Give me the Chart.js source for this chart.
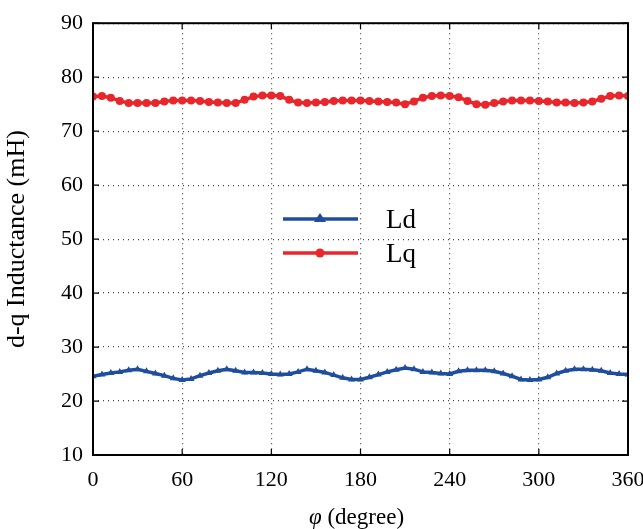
<!DOCTYPE html>
<html>
<head>
<meta charset="utf-8">
<script src="https://cdn.jsdelivr.net/npm/chart.js@4.4.1/dist/chart.umd.min.js"></script>
<style>
  html, body { margin: 0; padding: 0; background: #fff; }
  #wrap { width: 643px; height: 529px; }
</style>
</head>
<body>
<div id="wrap"><canvas id="myChart" width="643" height="529"></canvas></div>
<script>
// rotor angle (degree)
const angles = [0, 6, 12, 18, 24, 30, 36, 42, 48, 54, 60, 66, 72, 78, 84, 90, 96, 102, 108, 114,
  120, 126, 132, 138, 144, 150, 156, 162, 168, 174, 180, 186, 192, 198, 204, 210, 216, 222, 228, 234,
  240, 246, 252, 258, 264, 270, 276, 282, 288, 294, 300, 306, 312, 318, 324, 330, 336, 342, 348, 354, 360];

// d-axis inductance (mH)
const ld = [24.6, 24.9, 25.2, 25.4, 25.7, 25.9, 25.5, 25.1, 24.7, 24.2, 23.9, 24.1, 24.7, 25.2, 25.6, 25.9, 25.6, 25.3, 25.3, 25.2,
  25.0, 24.9, 25.0, 25.4, 25.9, 25.6, 25.3, 24.8, 24.3, 24.0, 24.0, 24.4, 24.9, 25.4, 25.8, 26.1, 25.9, 25.4, 25.3, 25.1,
  25.0, 25.5, 25.7, 25.7, 25.7, 25.5, 25.1, 24.6, 24.0, 23.9, 24.0, 24.4, 25.1, 25.6, 25.9, 25.9, 25.8, 25.6, 25.2, 25.0, 24.9];

// q-axis inductance (mH)
const lq = [76.4, 76.5, 76.2, 75.6, 75.2, 75.2, 75.2, 75.2, 75.5, 75.7, 75.7, 75.7, 75.6, 75.4, 75.3, 75.2, 75.2, 75.8, 76.4, 76.6,
  76.6, 76.5, 75.8, 75.3, 75.2, 75.3, 75.4, 75.6, 75.7, 75.7, 75.7, 75.6, 75.5, 75.4, 75.3, 75.0, 75.5, 76.2, 76.5, 76.6,
  76.5, 76.3, 75.6, 75.0, 74.9, 75.2, 75.5, 75.7, 75.7, 75.7, 75.6, 75.5, 75.3, 75.3, 75.2, 75.3, 75.5, 76.0, 76.5, 76.6, 76.5];

const xTicks = [0, 60, 120, 180, 240, 300, 360];
const yTicks = [10, 20, 30, 40, 50, 60, 70, 80, 90];

const serif = "'Liberation Serif', 'Times New Roman', serif";
const blue = '#1f4e9e';
const red = '#e8262b';

const toPoints = vals => angles.map((a, i) => ({ x: a, y: vals[i] }));

// frame, inward ticks, legend and x title
const decor = {
  id: 'decor',
  afterDraw(chart) {
    const { ctx, chartArea: a, scales } = chart;
    ctx.save();
    ctx.strokeStyle = '#000';
    ctx.lineWidth = 1.2;
    ctx.beginPath();
    xTicks.forEach(v => {
      const x = scales.x.getPixelForValue(v);
      ctx.moveTo(x, a.bottom); ctx.lineTo(x, a.bottom - 6);
      ctx.moveTo(x, a.top); ctx.lineTo(x, a.top + 6);
    });
    yTicks.forEach(v => {
      const y = scales.y.getPixelForValue(v);
      ctx.moveTo(a.left, y); ctx.lineTo(a.left + 6, y);
      ctx.moveTo(a.right, y); ctx.lineTo(a.right - 6, y);
    });
    ctx.stroke();
    ctx.lineWidth = 2;
    ctx.strokeRect(a.left, a.top, a.right - a.left, a.bottom - a.top);

    // legend
    const items = [
      { label: 'Ld', ds: chart.data.datasets[0], y: 219 },
      { label: 'Lq', ds: chart.data.datasets[1], y: 253 }
    ];
    ctx.font = '27px ' + serif;
    ctx.textBaseline = 'middle';
    items.forEach(it => {
      ctx.strokeStyle = it.ds.borderColor;
      ctx.lineWidth = 3.5;
      ctx.beginPath();
      ctx.moveTo(283, it.y); ctx.lineTo(358, it.y);
      ctx.stroke();
      ctx.fillStyle = it.ds.borderColor;
      ctx.beginPath();
      if (it.ds.pointStyle === 'triangle') {
        ctx.moveTo(320, it.y - 6); ctx.lineTo(326, it.y + 3); ctx.lineTo(314, it.y + 3);
      } else {
        ctx.arc(320, it.y, 4.5, 0, Math.PI * 2);
      }
      ctx.fill();
      ctx.fillStyle = '#000';
      ctx.fillText(it.label, 386, it.y + 2);
    });

    // x axis title with italic phi
    ctx.textBaseline = 'alphabetic';
    ctx.fillStyle = '#000';
    const cx = (a.left + a.right) / 2 - 4;
    ctx.font = 'italic 23px ' + serif;
    const w1 = ctx.measureText('\u03c6').width;
    ctx.font = '23px ' + serif;
    const w2 = ctx.measureText(' (degree)').width;
    const x0 = cx - (w1 + w2) / 2;
    ctx.font = 'italic 23px ' + serif;
    ctx.fillText('\u03c6', x0, 524);
    ctx.font = '23px ' + serif;
    ctx.fillText(' (degree)', x0 + w1, 524);
    ctx.restore();
  }
};

const dotted = {
  color: '#444',
  lineWidth: 1.2,
  drawTicks: false
};

new Chart(document.getElementById('myChart'), {
  type: 'line',
  data: {
    datasets: [
      {
        label: 'Ld',
        data: toPoints(ld),
        borderColor: blue,
        backgroundColor: blue,
        borderWidth: 3.5,
        pointStyle: 'triangle',
        pointRadius: 4,
        pointBorderWidth: 0
      },
      {
        label: 'Lq',
        data: toPoints(lq),
        borderColor: red,
        backgroundColor: red,
        borderWidth: 3.5,
        pointStyle: 'circle',
        pointRadius: 4,
        pointBorderWidth: 0
      }
    ]
  },
  options: {
    responsive: false,
    animation: false,
    layout: { padding: { top: 18, right: 0, left: 0, bottom: 0 } },
    plugins: { legend: { display: false }, tooltip: { enabled: false } },
    scales: {
      x: {
        type: 'linear',
        min: 0,
        max: 360,
        afterBuildTicks: s => { s.ticks = xTicks.map(v => ({ value: v })); },
        afterFit: s => { s.height = 74; s.paddingLeft = 0; s.paddingRight = 15; },
        grid: dotted,
        border: { display: false, dash: [1, 4] },
        ticks: { color: '#000', padding: 12, font: { family: serif, size: 22 }, maxRotation: 0 }
      },
      y: {
        min: 10,
        max: 90,
        afterBuildTicks: s => { s.ticks = yTicks.map(v => ({ value: v })); },
        afterFit: s => { s.width = 93; },
        grid: dotted,
        border: { display: false, dash: [1, 4] },
        ticks: { color: '#000', padding: 10, font: { family: serif, size: 22 } },
        title: {
          display: true,
          text: 'd-q Inductance (mH)',
          color: '#000',
          font: { family: serif, size: 26 },
          padding: { top: 2, bottom: 4 }
        }
      }
    }
  },
  plugins: [decor]
});
</script>
</body>
</html>
